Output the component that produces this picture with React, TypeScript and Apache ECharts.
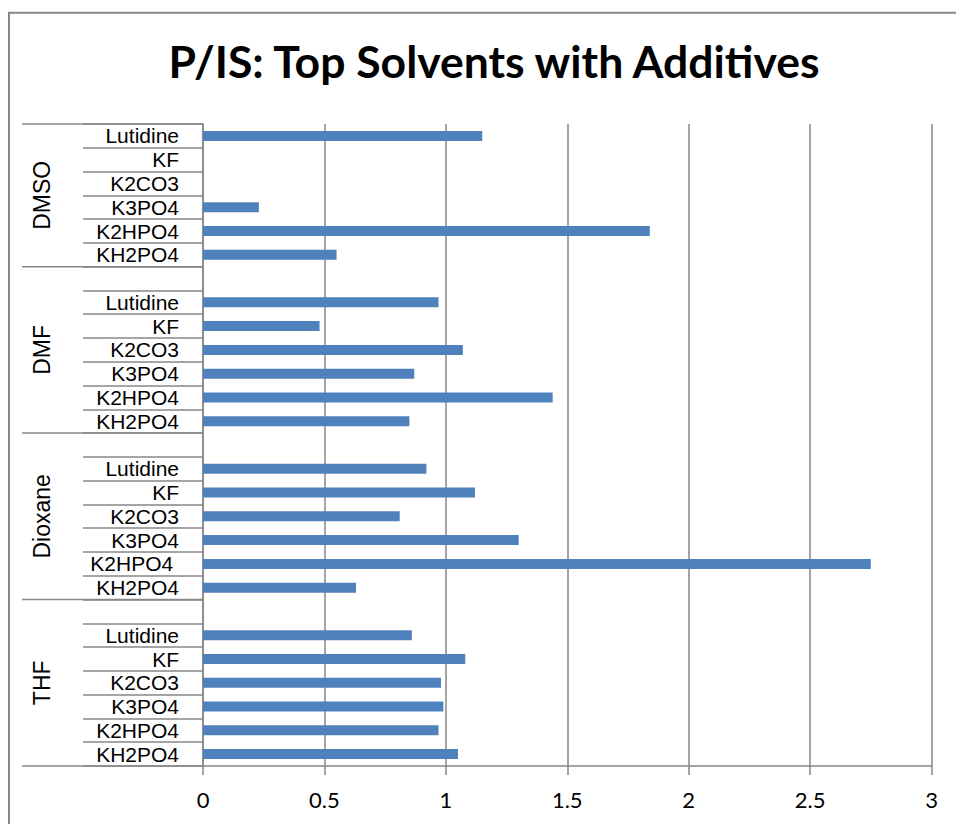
import React, { useEffect, useRef } from "react";
import * as echarts from "echarts";

const solvents = ["THF", "Dioxane", "DMF", "DMSO"];
const additives = ["KH2PO4", "K2HPO4", "K3PO4", "K2CO3", "KF", "Lutidine"];
const thfValues = [1.05, 0.97, 0.99, 0.98, 1.08, 0.86];
const dioxaneValues = [0.63, 2.75, 1.3, 0.81, 1.12, 0.92];
const dmfValues = [0.85, 1.44, 0.87, 1.07, 0.48, 0.97];
const dmsoValues = [0.55, 1.84, 0.23, 0, 0, 1.15];
const xTicks = { min: 0, max: 3, interval: 0.5 };
const title = "P/IS: Top Solvents with Additives";

const FONT = "Lato, 'Noto Sans', sans-serif";
const LABEL_FONT = "'Liberation Sans', Arial, sans-serif";
const GRAY = "#878787";

export default function App() {
  const ref = useRef<HTMLDivElement>(null);
  useEffect(() => {
    if (!ref.current) return;
    const chart = echarts.init(ref.current, undefined, { renderer: "svg" });
    const groups = [thfValues, dioxaneValues, dmfValues, dmsoValues];
    const cats: string[] = [];
    const vals: (number | null)[] = [];
    const groupRanges: [number, number][] = [];
    groups.forEach((g, gi) => {
      const start = cats.length;
      additives.forEach((a, ai) => {
        let label = a;
        if (solvents[gi] === "Dioxane" && a === "K2HPO4") label = a + "\u00a0";
        cats.push(solvents[gi] + "|" + label);
        vals.push(g[ai]);
      });
      if (gi < groups.length - 1) {
        cats.push(solvents[gi] + "|");
        vals.push(null);
      }
      groupRanges.push([start, cats.length - 1]);
    });

    chart.setOption({
      animation: false,
      backgroundColor: "#fff",
      title: {
        text: title,
        left: 489,
        top: 33,
        textAlign: "center",
        textStyle: { fontFamily: FONT, fontWeight: "bold", fontSize: 44.5, color: "#000" },
      },
      grid: { left: 203, right: 24.5, top: 124, bottom: 58, containLabel: false },
      xAxis: {
        type: "value",
        min: xTicks.min,
        max: xTicks.max,
        interval: xTicks.interval,
        axisLine: { show: true, lineStyle: { color: GRAY, width: 1.5 } },
        axisTick: { show: true, length: 9, lineStyle: { color: GRAY, width: 1.5 } },
        axisLabel: { fontFamily: FONT, fontSize: 22, color: "#000", margin: 22 },
        splitLine: { show: true, lineStyle: { color: GRAY, width: 1.5 } },
      },
      yAxis: {
        type: "category",
        data: cats,
        axisLine: { show: true, lineStyle: { color: GRAY, width: 1.5 } },
        axisTick: { show: true, interval: 0, length: 120, lineStyle: { color: GRAY, width: 1.5 } },
        axisLabel: {
          interval: 0,
          margin: 24,
          fontFamily: LABEL_FONT,
          fontSize: 21,
          lineHeight: 21,
          color: "#000",
          formatter: (v: string) => v.split("|")[1] || "",
        },
        splitLine: { show: false },
      },
      series: [
        {
          type: "bar",
          data: vals,
          barWidth: 10,
          itemStyle: { color: "#4F81BD" },
        },
      ],
    });

    const yPix = (i: number) => chart.convertToPixel({ yAxisIndex: 0 }, i) as number;
    const band = yPix(0) - yPix(1);
    const bottomOf = (i: number) => yPix(i) + band / 2;
    const topOf = (i: number) => yPix(i) - band / 2;
    const x0 = chart.convertToPixel({ xAxisIndex: 0 }, 0) as number;
    const graphics: any[] = [
      {
        type: "rect",
        shape: { x: 9, y: 12.8, width: 1200, height: 1200 },
        style: { fill: "none", stroke: GRAY, lineWidth: 2 },
        silent: true,
      },
    ];
    const boundaries = [bottomOf(0)];
    groupRanges.forEach(([s, e]) => boundaries.push(topOf(e)));
    boundaries.forEach((y) => {
      graphics.push({
        type: "line",
        shape: { x1: 22, y1: y, x2: x0, y2: y },
        style: { stroke: GRAY, lineWidth: 1.5 },
        silent: true,
      });
    });
    groupRanges.forEach(([s, e], gi) => {
      const cy = (bottomOf(s) + topOf(e)) / 2;
      graphics.push({
        type: "text",
        x: 42,
        y: cy,
        rotation: Math.PI / 2,
        style: {
          text: solvents[gi],
          fontFamily: LABEL_FONT,
          fontSize: 23,
          fill: "#000",
          align: "center",
          verticalAlign: "middle",
        },
        silent: true,
      });
    });
    chart.setOption({ graphic: graphics });

    return () => chart.dispose();
  }, []);
  return (
    <div
      ref={ref}
      style={{ position: "absolute", left: 0, top: 0, width: 956, height: 824 }}
    />
  );
}
